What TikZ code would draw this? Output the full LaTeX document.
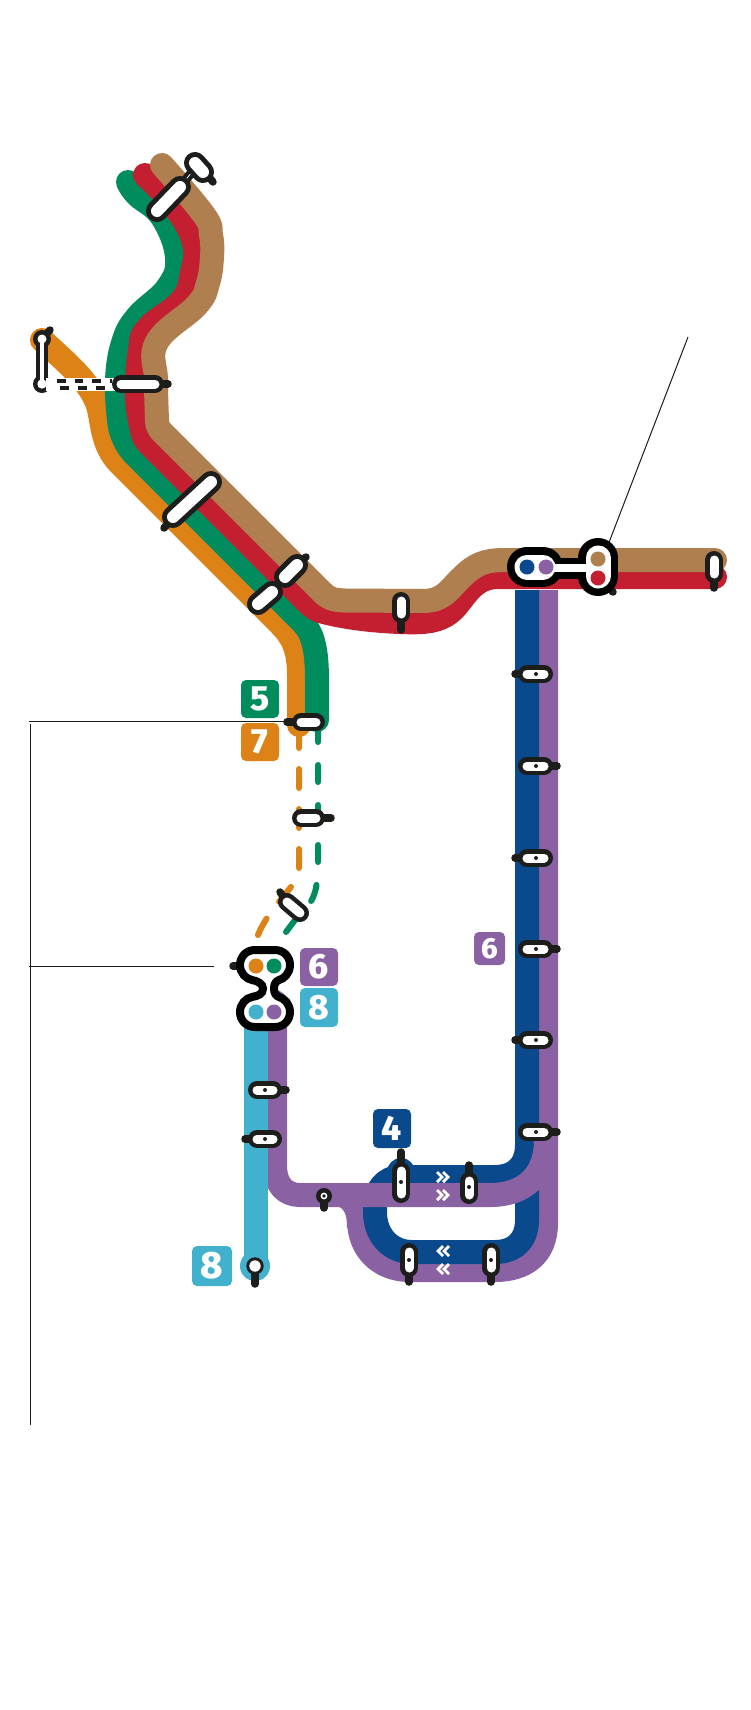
\documentclass[tikz,border=0pt]{standalone}
\usepackage{fontspec}
\setmainfont{Fira Sans}
\newfontfamily\numfont{Fira Sans ExtraBold}
\definecolor{cbrown}{HTML}{B07F50}
\definecolor{cred}{HTML}{C41F30}
\definecolor{cgreen}{HTML}{008C5C}
\definecolor{corange}{HTML}{DD8217}
\definecolor{cblue}{HTML}{0A4A8C}
\definecolor{cpurple}{HTML}{8A62A4}
\definecolor{ccyan}{HTML}{42B1CD}
\definecolor{cblack}{HTML}{1D1D1B}
\tikzset{
  x=1pt,y=-1pt,
  routeline/.style={line width=24pt,line cap=round,line join=round},
  flatline/.style={line width=24pt,line cap=butt,line join=round},
  dashline/.style={line width=6pt,line cap=round},
  ballline/.style={line width=7.5pt,line cap=round,color=cblack},
  pillb/.style={line width=18pt,line cap=round,color=cblack},
  pillw/.style={line width=9pt,line cap=round,color=white},
  bigb/.style={line width=22pt,line cap=round,color=cblack},
  bigw/.style={line width=12pt,line cap=round,color=white},
  leader/.style={line width=1pt,color=cblack},
  badge/.style={rounded corners=5pt,draw=none},
  num/.style={font=\numfont\fontsize{35}{35}\selectfont,text=white,inner sep=0pt},
  chevline/.style={line width=2.8pt,color=white,line join=miter},
}
\newcommand{\stn}[3]{%
  \draw[ballline] (#1) -- (#3);
  \draw[pillb] (#1) -- (#2);
  \draw[pillw] (#1) -- (#2);}
\newcommand{\bigstn}[2]{%
  \draw[bigb] (#1) -- (#2);
  \draw[bigw] (#1) -- (#2);}
\newcommand{\stndot}[1]{\fill[cblack] (#1) circle (2pt);}
\newcommand{\chevright}[2]{%
  \draw[chevline] (#1-6,#2-5) -- (#1-1,#2) -- (#1-6,#2+5);
  \draw[chevline] (#1,#2-5) -- (#1+5,#2) -- (#1,#2+5);}
\newcommand{\chevleft}[2]{%
  \draw[chevline] (#1+6,#2-5) -- (#1+1,#2) -- (#1+6,#2+5);
  \draw[chevline] (#1,#2-5) -- (#1-5,#2) -- (#1,#2+5);}
\begin{document}
\begin{tikzpicture}
\useasboundingbox (0,0) rectangle (750,1710);
\fill[white] (0,0) rectangle (750,1710);
% leaders
\draw[leader] (29,721) -- (288,721);
\draw[leader] (30,723.5) -- (30,1425);
\draw[leader] (29,966.5) -- (214,966.5);
\draw[leader] (688,337) -- (608,545);
% orange
\draw[routeline,corange] plot[smooth,tension=0.7] coordinates {(42,340)(72,368)(89,388)(97,403)} .. controls (103,418) and (100,444) .. (120,464) -- (280,624) .. controls (293,637) and (299,650) .. (299,675) -- (299,725);
% green
\draw[routeline,cgreen] plot[smooth,tension=0.7] coordinates {(128,182)(137,195)(162,217)(177,257)(168,287)(137,317)(123,343)(117,380)(119,420)} .. controls (120,435) and (128,448) .. (135,455) -- (303,623) .. controls (313,633) and (317,650) .. (317,680) -- (317,720);
% red
\draw[routeline,cred] plot[smooth,tension=0.7] coordinates {(145,175)(175,207)(194,243)(192,273)(182,300)(148,328)(140,350)(137,397)(142,430)} .. controls (143,438) and (147,442) .. (150,445) -- (300,595) .. controls (306,601) and (312,608) .. (320,611) .. controls (345,618) and (375,621) .. (400,622) .. controls (425,623) and (440,622) .. (453,610) .. controls (465,598) and (472,579) .. (495,577) -- (715,577);
% brown
\draw[routeline,cbrown] plot[smooth,tension=0.7] coordinates {(162,165)(204,215)(211,235)(212,257)(208,283)(197,305)(157,342)(156,380)(157,420)} .. controls (157,426) and (159,429) .. (162,432) -- (322,592) .. controls (329,599) and (333,600) .. (345,600.5) -- (425,601) .. controls (445,600) and (450,588) .. (462,577) .. controls (475,564) and (485,560) .. (505,560) -- (715,560);
% dashed
\draw[dashline,corange,dash pattern=on 19pt off 21pt] (299,729) -- (299,870) .. controls (299,885) and (270,905) .. (258,935);
\draw[dashline,cgreen,dash pattern=on 17pt off 23pt] (318,725) -- (318,870) .. controls (316,895) and (315,900) .. (295,920) -- (274,948);
% purple outer loop
\draw[flatline,cpurple] (546,590) -- (546,1223) .. controls (546,1255) and (525,1270) .. (495,1270) -- (410,1270) .. controls (380,1270) and (359,1250) .. (359,1220) -- (359,1195);
% blue
\fill[cblue] (401,1172) circle (14pt);
\draw[flatline,cblue] (527,590) -- (527,1145) .. controls (527,1165) and (515,1177) .. (495,1177) -- (400,1177) .. controls (385,1177) and (375,1190) .. (375,1205) -- (375,1212) .. controls (375,1235) and (390,1252) .. (412,1252) -- (495,1252) .. controls (515,1252) and (527,1240) .. (527,1220) -- (527,1170);
% purple band
\fill[cpurple] (275,1002) circle (12pt);
\draw[flatline,cpurple] (275,1002) -- (275,1165) .. controls (275,1185) and (285,1195) .. (300,1195) -- (490,1195) .. controls (525,1195) and (546,1175) .. (546,1140);
\fill[cpurple] (335,1205) .. controls (345,1208) and (347,1215) .. (347,1228) -- (360,1228) -- (360,1205) -- cycle;
% cyan
\fill[ccyan] (256,1004) circle (12pt);
\draw[flatline,ccyan] (256,1004) -- (256,1266);
\fill[ccyan] (255,1266) circle (15pt);
% chevrons
\chevright{443}{1177}
\chevright{443}{1195}
\chevleft{443}{1251}
\chevleft{443}{1269}
% badges
\fill[badge,cgreen] (241,680) rectangle (279,718);
\node[num] (n5) at (260,699) {5};
\fill[badge,corange] (241,723) rectangle (279,761);
\node[num] (n7) at (260,742) {7};
\fill[badge,cpurple] (300,948) rectangle (338,986);
\node[num] (n6a) at (319,967) {6};
\fill[badge,ccyan] (300,988) rectangle (338,1027);
\node[num] (n8a) at (319,1007.5) {8};
\fill[badge,cpurple] (474,932) rectangle (505,965);
\node[num,font=\numfont\fontsize{29}{29}\selectfont] (n6b) at (489.5,948.5) {6};
\fill[badge,cblue] (373,1109) rectangle (411,1148);
\node[num] (n4) at (392,1128.5) {4};
\fill[badge,ccyan] (192,1246) rectangle (232,1286);
\node[num,font=\numfont\fontsize{38}{38}\selectfont] (n8b) at (212,1266) {8};
% top station pair
\draw[ballline] (205,172) -- (213,182);
\draw[line width=9pt,cblack] (178,189) -- (197,166);
\draw[line width=0.8pt,white] (178,189) -- (197,166);
\bigstn{157,211}{180,187}
\bigstn{195,163}{203,172}
% dashed connector station
\draw[ballline] (42,339) -- (50,330);
\fill[cblack] (42,339) circle (9pt);
\fill[cblack] (42,384) circle (9pt);
\draw[line width=12pt,cblack] (42,339) -- (42,384);
\draw[line width=4pt,white] (42,339) -- (42,384);
\fill[white] (42,339) circle (4.5pt);
\fill[white] (42,384) circle (4.7pt);
\draw[line width=13pt,white] (46,384) -- (118,384);
\draw[line width=4.6pt,cblack,dash pattern=on 8.5pt off 9pt] (57,381) -- (112,381);
\draw[line width=4.6pt,cblack,dash pattern=on 8.5pt off 9.5pt] (60,388) -- (112,388);
\stn{121,384}{155,384}{168,384}
% diagonal big
\draw[ballline] (172,519) -- (164,528);
\bigstn{173,517}{211,482}
% diagonal double
\draw[ballline] (297,565) -- (306,557);
\draw[line width=9pt,cblack] (268,594) -- (289,574);
\draw[line width=0.8pt,white] (268,594) -- (289,574);
\bigstn{285,577}{297,565}
\bigstn{258,604}{272,592}
% other single stations
\stn{401,601}{401,614}{401,630}
\stn{301,722}{316,722}{287,722}
\stn{301,818}{316,818}{331,818}
\stn{287,902}{300,913}{280,892}
% lower interchange
\draw[ballline] (245,966) -- (233,966);
\draw[line width=8pt,draw=black,fill=white] (255,950) -- (275,950) .. controls (284,950) and (290,957) .. (290,965) .. controls (290,973) and (284,979) .. (279,980) .. controls (276,981) and (274,984) .. (274,988.5) .. controls (274,993) and (276,996) .. (279,997) .. controls (284,998) and (290,1004) .. (290,1012) .. controls (290,1020) and (284,1027) .. (275,1027) -- (255,1027) .. controls (246,1027) and (240,1020) .. (240,1012) .. controls (240,1004) and (246,998) .. (252,997) .. controls (258,996) and (263,994) .. (263,988.5) .. controls (263,984) and (258,981) .. (252,980) .. controls (246,979) and (240,973) .. (240,965) .. controls (240,957) and (246,950) .. (255,950) -- cycle;
\fill[corange] (256,966) circle (7.5pt);
\fill[cgreen] (274,966) circle (7.5pt);
\fill[ccyan] (256,1012) circle (7.5pt);
\fill[cpurple] (274,1012) circle (7.5pt);
% column stations
\foreach \yy/\bx in {674/515,766/557,858/515,949/557,1040/515,1132/557}{
  \draw[ballline] (536,\yy) -- (\bx,\yy);
  \draw[pillb] (527,\yy) -- (544,\yy);
  \draw[pillw] (527,\yy) -- (544,\yy);
  \fill[cblack] (536,\yy) circle (2pt);
}
\stn{257,1090}{273,1090}{286,1090}
\stndot{265,1090}
\stn{257,1139}{273,1139}{245,1139}
\stndot{265,1139}
% loop stations
\stn{401,1171}{401,1194}{401,1152}
\stndot{401,1182}
\stn{469,1181}{469,1195}{469,1165}
\stndot{469,1187}
\stn{409,1252}{409,1268}{409,1282}
\stndot{409,1260}
\stn{491,1252}{491,1268}{491,1282}
\stndot{491,1260}
% small circle station
\draw[ballline] (324,1196) -- (324,1208);
\fill[cblack] (324,1196) circle (8pt);
\fill[white] (324,1196) circle (3.4pt);
\fill[cblack] (324,1196) circle (1.8pt);
% terminal
\draw[ballline] (255,1266) -- (255,1284);
\fill[cblack] (255,1266) circle (8.7pt);
\fill[white] (255,1266) circle (5.7pt);
% upper interchange
\draw[ballline] (600,580) -- (613,592);
\draw[line width=21pt,black] (530,568) -- (600,568);
\draw[line width=40pt,line cap=round,black] (527,567) -- (543,567);
\draw[line width=25pt,line cap=round,white] (527,567) -- (543,567);
\draw[line width=40pt,line cap=round,black] (598,558) -- (598,576);
\draw[line width=25pt,line cap=round,white] (598,558) -- (598,576);
\draw[line width=8pt,white] (540,568) -- (600,568);
\fill[cblue] (527,567) circle (7.5pt);
\fill[cpurple] (546,567) circle (7.5pt);
\fill[cbrown] (598,559) circle (7.5pt);
\fill[cred] (598,578) circle (7.5pt);
% right end
\stn{714,560}{714,574}{714,588}
\end{tikzpicture}
\end{document}
